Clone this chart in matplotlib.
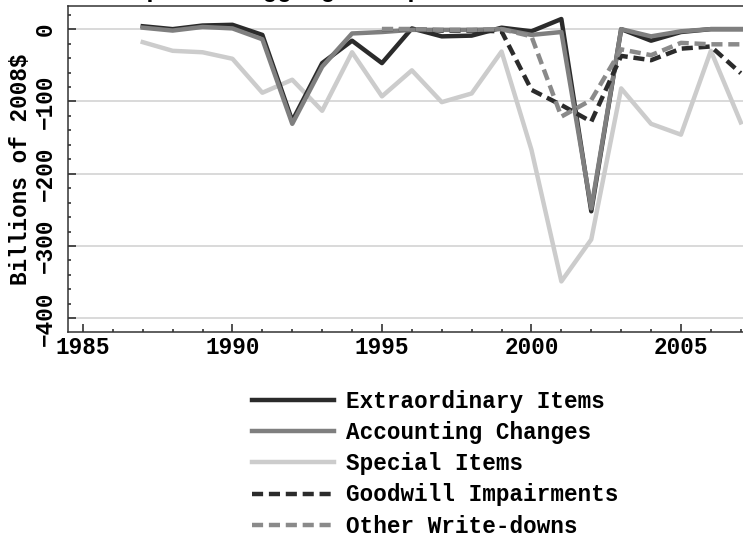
import numpy as np
import matplotlib
matplotlib.use("Agg")
from matplotlib import pyplot as plt
from matplotlib.ticker import MultipleLocator

years = list(range(1987, 2008))
extraordinary = [4, 0, 5, 6, -8, -127, -47, -16, -47, 1, -10, -9, 2, -3, 14, -252, 0, -16, -4, 0, 0]
accounting = [2, -2, 3, 1, -14, -131, -52, -6, -4, -1, -1, -1, 0, -8, -4, -248, 0, -10, -3, 0, 0]
special = [-18, -30, -32, -41, -88, -70, -113, -32, -93, -57, -101, -89, -31, -167, -349, -291, -82, -131, -146, -30, -129]

wd_years = list(range(1995, 2008))
goodwill = [0, 0, -2, -2, -3, -84, -105, -128, -37, -43, -27, -24, -61]
other_wd = [0, 0, -1, -1, 0, -10, -121, -98, -28, -36, -19, -21, -21]

labels = ["Extraordinary Items", "Accounting Changes", "Special Items",
          "Goodwill Impairments", "Other Write-downs"]

plt.rcParams['font.family'] = ['Liberation Mono', 'DejaVu Sans Mono']
plt.rcParams['font.weight'] = 'bold'
plt.rcParams['axes.labelweight'] = 'bold'
fs = 16.3

fig = plt.figure(figsize=(7.43, 5.36), dpi=100)
ax = fig.add_axes([68 / 743, (536 - 332) / 536, 0.9256, (332 - 6) / 536])

lw = 3.2
dash = (2.5, 1.3)
l1, = ax.plot(years, extraordinary, color="#2b2b2b", lw=lw, zorder=3)
l2, = ax.plot(years, accounting, color="#7f7f7f", lw=lw, zorder=3)
l3, = ax.plot(years, special, color="#cccccc", lw=lw, zorder=2)
l4, = ax.plot(wd_years, goodwill, color="#2b2b2b", lw=lw, ls=(0, dash), zorder=3)
l5, = ax.plot(wd_years, other_wd, color="#8a8a8a", lw=lw, ls=(0, dash), zorder=3)

ax.set_xlim(1984.5, 2007.5)
ax.set_ylim(-419, 32)
ax.xaxis.set_major_locator(MultipleLocator(5))
ax.xaxis.set_minor_locator(MultipleLocator(1))
ax.yaxis.set_major_locator(MultipleLocator(100))
ax.yaxis.set_minor_locator(MultipleLocator(20))
ax.grid(True, axis='y', which='major', color="#cfcfcf", lw=1.1, zorder=0)
ax.set_axisbelow(True)

ax.tick_params(which='both', direction='in', color="#222222", width=1.1,
               labelsize=fs, top=False, right=False)
ax.tick_params(which='major', length=6)
ax.tick_params(which='minor', length=2.5)
ax.tick_params(axis='x', pad=3)
ax.tick_params(axis='y', pad=8)
for t in ax.get_yticklabels():
    t.set_rotation(90)
    t.set_va('center')

for s in ['left', 'bottom', 'top']:
    ax.spines[s].set_color("#333333")
    ax.spines[s].set_linewidth(1.1)
ax.spines['right'].set_visible(False)

ax.set_ylabel("Billions of 2008$", fontsize=fs, fontweight='bold', labelpad=1)

# title sits above the top edge, only its descenders show
fig.text(103 / 743, 1 + 3 / 536, "Corporate Aggregate Special Items and Write-downs by Year",
         fontsize=17.4, ha='left', va='baseline')

fig.legend([l1, l2, l3, l4, l5], labels, loc='upper left',
           bbox_to_anchor=(252 / 743, (536 - 390) / 536), frameon=False,
           borderpad=0, borderaxespad=0, handlelength=3.6, handletextpad=0.55,
           labelspacing=0.36, fontsize=fs)

fig.savefig("out.png", dpi=100)
